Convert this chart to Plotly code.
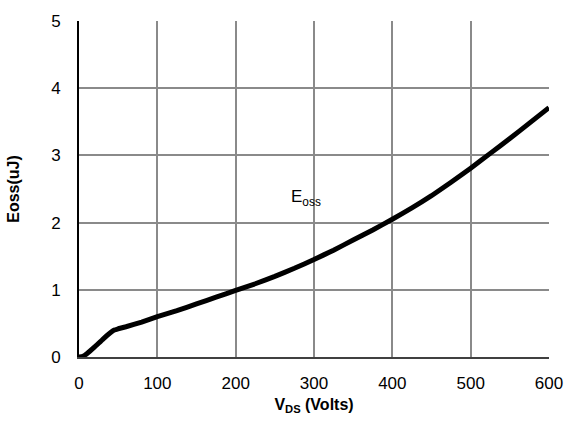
import plotly.graph_objects as go

vds = [0, 5, 10, 20, 30, 40, 45, 50, 60, 80, 100, 125, 150, 175, 200, 225, 250, 275, 300,
       325, 350, 375, 400, 425, 450, 475, 500, 525, 550, 575, 600]
eoss = [0.0, 0.01, 0.05, 0.15, 0.26, 0.36, 0.40, 0.42, 0.45, 0.52, 0.60, 0.69, 0.79, 0.89, 0.99,
        1.09, 1.20, 1.32, 1.45, 1.59, 1.74, 1.89, 2.05, 2.22, 2.40, 2.60, 2.81, 3.03, 3.25, 3.48, 3.71]

x_ticks = [0, 100, 200, 300, 400, 500, 600]
y_ticks = [0, 1, 2, 3, 4, 5]

font = "Liberation Sans, Arial, sans-serif"

fig = go.Figure()
fig.add_trace(go.Scatter(x=vds, y=eoss, mode="lines",
                         line=dict(color="black", width=5, shape="spline", smoothing=0.3),
                         showlegend=False, hoverinfo="skip"))

fig.add_annotation(x=290, y=2.36, text="E<sub>oss</sub>", showarrow=False,
                   font=dict(family=font, size=17, color="black"))

fig.update_layout(
    width=575, height=423,
    margin=dict(l=78, r=26, t=12, b=64),
    paper_bgcolor="white", plot_bgcolor="white",
    font=dict(family=font, color="black"),
    xaxis=dict(range=[0, 600], tickvals=x_ticks, showgrid=True, gridcolor="#8a8a8a", gridwidth=2,
               showline=True, linecolor="#404040", linewidth=2, zeroline=False,
               ticks="outside", ticklen=10, tickcolor="white",
               tickfont=dict(size=17, family=font, color="black"),
               title=dict(text="<b>V<sub>DS</sub> (Volts)</b>", font=dict(size=16, family=font), standoff=6)),
    yaxis=dict(range=[0, 5], tickvals=y_ticks, showgrid=True, gridcolor="#8a8a8a", gridwidth=2,
               showline=True, linecolor="black", linewidth=2, zeroline=False,
               ticks="outside", ticklen=13, tickcolor="white",
               tickfont=dict(size=17, family=font, color="black"),
               title=dict(text="<b>Eoss(uJ)</b>", font=dict(size=16, family=font), standoff=28)),
)

fig.write_html("out.html")
